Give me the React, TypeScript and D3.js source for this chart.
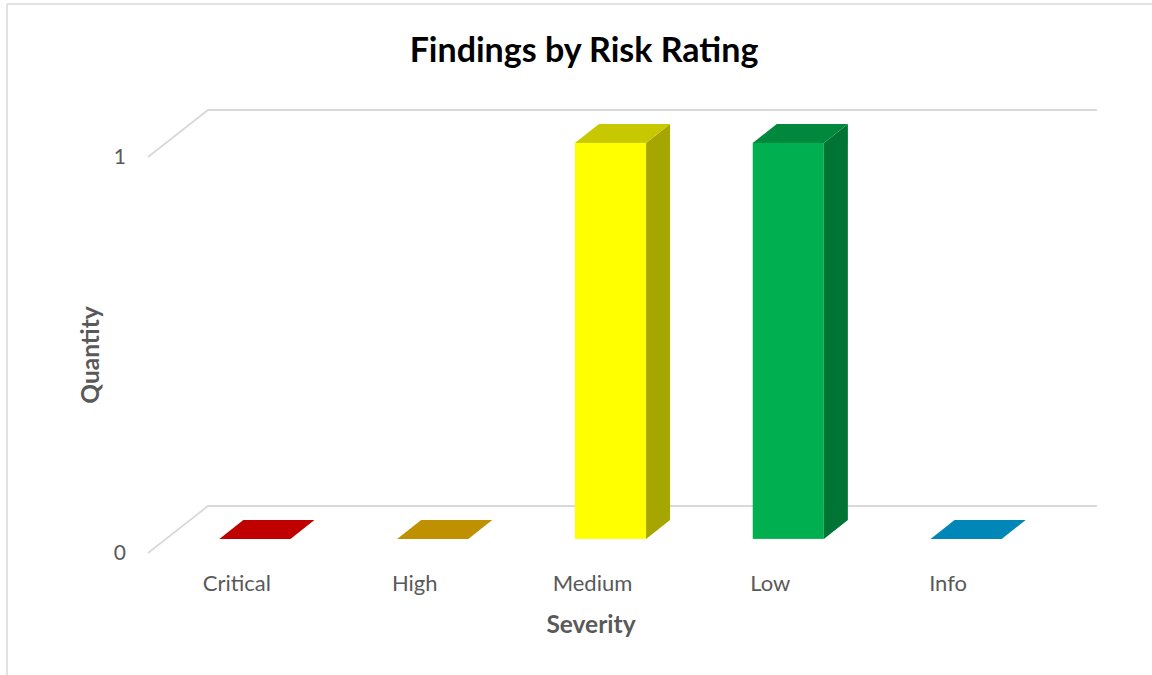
import * as d3 from 'd3';

const categories = ['Critical', 'High', 'Medium', 'Low', 'Info'];
const values = [0, 0, 1, 1, 0];
const yTicks = [0, 1];

// base / top / side shades per category
const faceColors = [
  { front: '#C00000', top: '#C00000', side: '#900000' },
  { front: '#BF9000', top: '#BF9000', side: '#8F6C00' },
  { front: '#FFFF00', top: '#C8C800', side: '#A6A600' },
  { front: '#00B050', top: '#00893D', side: '#007434' },
  { front: '#0087B8', top: '#0087B8', side: '#00658A' },
];

const W = 1152;
const H = 675;
const FONT = 'Lato, "Open Sans", sans-serif';

export default function App() {
  // front plane of the 3d box
  const left = 148;
  const right = 1037;
  const depthX = 60;
  const depthY = -47;
  const barFront = 0.3;
  const barBack = 0.7;

  const x = d3.scaleBand<string>().domain(categories).range([left, right]).paddingInner(0.6).paddingOuter(0.3);
  const y = d3.scaleLinear().domain([0, 1]).range([553, 157]);

  const grid = '#D9D9D9';
  const textCol = '#595959';

  return (
    <div style={{ position: 'absolute', left: 0, top: 0 }}>
      <svg width={W} height={H} style={{ display: 'block', background: '#fff' }}>
        {/* chart frame */}
        <line x1={7} x2={W} y1={4} y2={4} stroke={grid} strokeWidth={1.5} />
        <line x1={7} x2={7} y1={4} y2={H} stroke={grid} strokeWidth={1.5} />

        <text x={584} y={62} textAnchor="middle" fontFamily={FONT} fontWeight={700} fontSize={34} fill="#000">
          Findings by Risk Rating
        </text>

        {/* gridlines: side wall diagonal + back wall */}
        {yTicks.map((t) => (
          <g key={t}>
            <polyline
              points={`${left},${y(t)} ${left + depthX},${y(t) + depthY} ${right + depthX},${y(t) + depthY}`}
              fill="none"
              stroke={grid}
              strokeWidth={1.8}
            />
            <text x={126} y={y(t)} dy="0.35em" textAnchor="end" fontFamily={FONT} fontSize={21} fill={textCol}>
              {t}
            </text>
          </g>
        ))}

        {/* bars */}
        {categories.map((c, i) => {
          const v = values[i];
          const col = faceColors[i];
          const fx = (x(c) ?? 0) + barFront * depthX;
          const fy0 = y(0) + barFront * depthY;
          const fy1 = y(v) + barFront * depthY;
          const bw = x.bandwidth();
          const dx = (barBack - barFront) * depthX;
          const dy = (barBack - barFront) * depthY;
          const topFace = `${fx},${fy1} ${fx + dx},${fy1 + dy} ${fx + bw + dx},${fy1 + dy} ${fx + bw},${fy1}`;
          if (v === 0) {
            return <polygon key={c} points={topFace} fill={col.front} />;
          }
          const sideFace = `${fx + bw},${fy1} ${fx + bw + dx},${fy1 + dy} ${fx + bw + dx},${fy0 + dy} ${fx + bw},${fy0}`;
          return (
            <g key={c}>
              <polygon points={sideFace} fill={col.side} />
              <polygon points={topFace} fill={col.top} />
              <rect x={fx} y={fy1} width={bw} height={fy0 - fy1} fill={col.front} />
            </g>
          );
        })}

        {/* category labels */}
        {categories.map((c) => (
          <text
            key={c}
            x={(x(c) ?? 0) + x.bandwidth() / 2}
            y={591}
            textAnchor="middle"
            fontFamily={FONT}
            fontSize={22}
            fill={textCol}
          >
            {c}
          </text>
        ))}

        <text x={591} y={633} textAnchor="middle" fontFamily={FONT} fontWeight={700} fontSize={24.5} fill={textCol}>
          Severity
        </text>
        <text
          transform="translate(99,355) rotate(-90)"
          textAnchor="middle"
          fontFamily={FONT}
          fontWeight={700}
          fontSize={24.5}
          fill={textCol}
        >
          Quantity
        </text>
      </svg>
    </div>
  );
}
